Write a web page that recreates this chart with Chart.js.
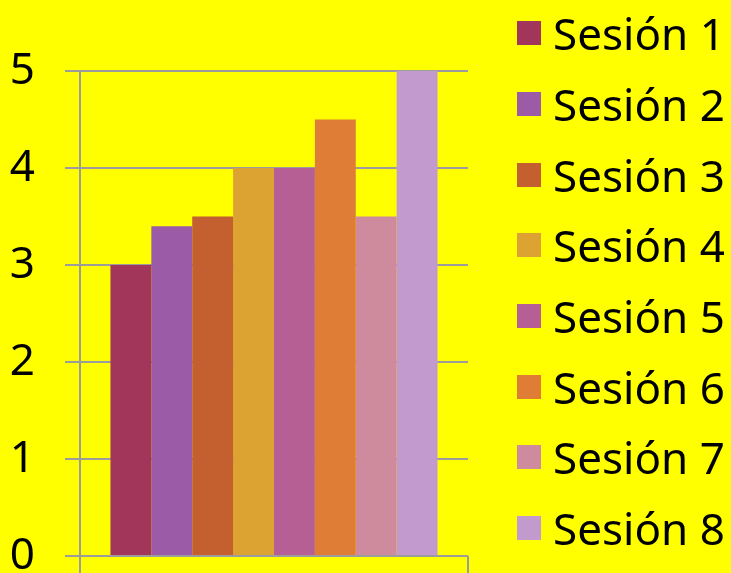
<!DOCTYPE html>
<html>
<head>
<meta charset="utf-8">
<script src="https://cdn.jsdelivr.net/npm/chart.js@4"></script>
<style>
  html, body { margin: 0; padding: 0; background: #ffff00; overflow: hidden; }
  #wrap { position: relative; width: 731px; height: 573px; }
  #legend { position: absolute; left: 517px; top: -2px; font-family: "Noto Sans", sans-serif; font-size: 44px; color: #000; }
  #legend .item { display: flex; align-items: center; height: 70.7px; line-height: 1; white-space: nowrap; }
  #legend .box { width: 24px; height: 24px; margin-right: 12px; }
</style>
</head>
<body>
<div id="wrap">
  <canvas id="chart" width="731" height="573"></canvas>
  <div id="legend"></div>
</div>
<script>
const sessions = ['Sesión 1', 'Sesión 2', 'Sesión 3', 'Sesión 4', 'Sesión 5', 'Sesión 6', 'Sesión 7', 'Sesión 8'];
const scores = [3, 3.4, 3.5, 4, 4, 4.5, 3.5, 5];
const colors = ['#a2355a', '#9b5ba6', '#c45f30', '#dca232', '#b65f95', '#df7c35', '#cd8b9d', '#c39ace'];
const yTicks = [0, 1, 2, 3, 4, 5];

const gridGray = '#9c9c9c';

// one dataset per session, single empty category
const datasets = sessions.map((s, i) => ({
  label: s,
  data: [scores[i]],
  backgroundColor: colors[i],
  borderWidth: 0,
  categoryPercentage: 0.843,
  barPercentage: 1
}));

// html legend so the rows can be spaced like the original
const htmlLegend = {
  id: 'htmlLegend',
  afterUpdate(chart) {
    const box = document.getElementById('legend');
    box.innerHTML = '';
    const items = Chart.defaults.plugins.legend.labels.generateLabels(chart);
    items.forEach(it => {
      const row = document.createElement('div');
      row.className = 'item';
      const sw = document.createElement('span');
      sw.className = 'box';
      sw.style.background = it.fillStyle;
      const txt = document.createElement('span');
      txt.textContent = it.text;
      row.appendChild(sw);
      row.appendChild(txt);
      box.appendChild(row);
    });
  }
};

new Chart(document.getElementById('chart'), {
  type: 'bar',
  data: { labels: [''], datasets: datasets },
  options: {
    responsive: false,
    animation: false,
    layout: { padding: { top: 71, right: 263, left: 0, bottom: 0 } },
    plugins: {
      legend: { display: false },
      tooltip: { enabled: false }
    },
    scales: {
      x: {
        offset: true,
        ticks: { display: false },
        grid: { color: gridGray, lineWidth: 2, tickLength: 17, drawOnChartArea: false },
        border: { display: false },
        afterFit: s => { s.height = 17; }
      },
      y: {
        min: 0,
        max: 5,
        afterBuildTicks: s => { s.ticks = yTicks.map(v => ({ value: v })); },
        ticks: {
          color: '#000',
          padding: 30,
          font: { family: 'Noto Sans', size: 44 }
        },
        grid: { color: gridGray, lineWidth: 2, tickLength: 15 },
        border: { color: gridGray, width: 2 },
        afterFit: s => { s.width = 80; s.paddingTop = 0; s.paddingBottom = 0; }
      }
    }
  },
  plugins: [htmlLegend]
});
</script>
</body>
</html>
